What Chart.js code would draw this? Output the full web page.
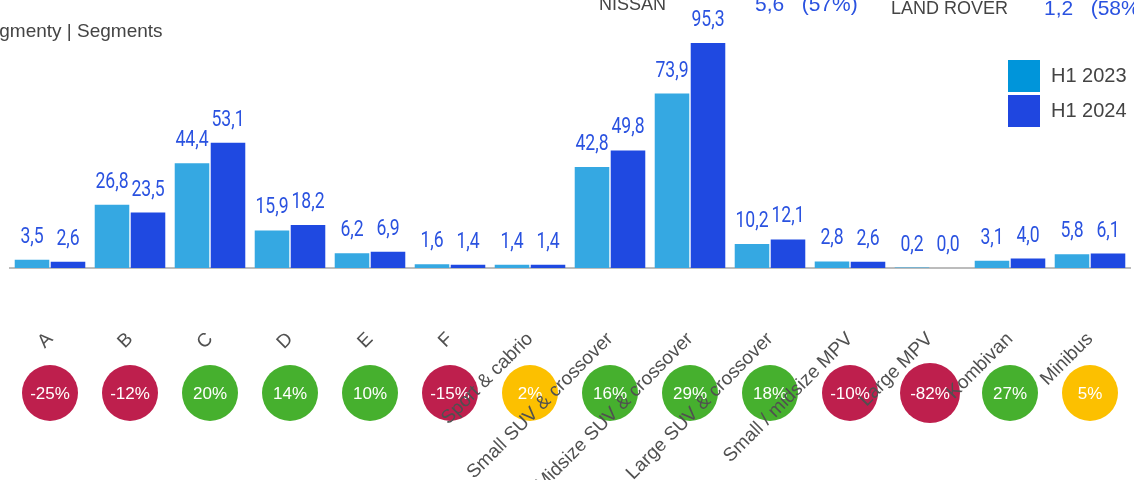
<!DOCTYPE html>
<html>
<head>
<meta charset="utf-8">
<script src="https://cdn.jsdelivr.net/npm/chart.js@4.4.1/dist/chart.umd.min.js"></script>
<style>
  html, body { margin: 0; padding: 0; background: #fff; }
  #wrap { position: relative; width: 1134px; height: 480px; overflow: hidden; font-family: 'Liberation Sans', Arial, sans-serif; }
  #wrap canvas { position: absolute; left: 0; top: 0; }
  .txt { position: absolute; white-space: nowrap; line-height: 1; }
  .gray { color: #444; }
  .blue { color: #2a52e0; }
  #legend { position: absolute; left: 1008px; top: 58px; }
  .lg { display: flex; align-items: center; height: 35px; font-size: 20px; color: #444; }
  .lg span.sw { width: 32px; height: 32px; margin-right: 11px; }
</style>
</head>
<body>
<div id="wrap">
  <canvas id="chart" width="1134" height="480"></canvas>
  <div class="txt gray" style="left:-24px; top:21px; font-size:19px;">Segmenty | Segments</div>
  <div class="txt gray" style="left:599px; top:-5px; font-size:18px;">NISSAN</div>
  <div class="txt blue" style="left:755px; top:-7px; font-size:21px;">5,6&nbsp;&nbsp;&nbsp;(57%)</div>
  <div class="txt gray" style="left:891px; top:-1px; font-size:18px;">LAND ROVER</div>
  <div class="txt blue" style="left:1044px; top:-3px; font-size:21px;">1,2&nbsp;&nbsp;&nbsp;(58%)</div>
  <div id="legend"></div>
</div>
<script>
const $ = (id) => document.getElementById(id);

// ----- data -----
const segments = ['A', 'B', 'C', 'D', 'E', 'F', 'Sport & cabrio', 'Small SUV & crossover',
  'Midsize SUV & crossover', 'Large SUV & crossover', 'Small / midsize MPV', 'Large MPV', 'Kombivan', 'Minibus'];
const h1_2023 = [3.5, 26.8, 44.4, 15.9, 6.2, 1.6, 1.4, 42.8, 73.9, 10.2, 2.8, 0.2, 3.1, 5.8];
const h1_2024 = [2.6, 23.5, 53.1, 18.2, 6.9, 1.4, 1.4, 49.8, 95.3, 12.1, 2.6, 0.0, 4.0, 6.1];
const changePct = [-25, -12, 20, 14, 10, -15, 2, 16, 29, 18, -10, -82, 27, 5];

const fmt = (v) => v.toFixed(1).replace('.', ',');
function circleColor(p) {
  if (p < 0) return '#be1f4d';
  if (p < 10) return '#fcc000';
  return '#46b02e';
}

// value labels above the bars (squeezed to look condensed)
const SQ = 0.8;
const valueLabels = {
  id: 'valueLabels',
  afterDatasetsDraw(c) {
    const g = c.ctx;
    g.save();
    g.scale(SQ, 1);
    g.font = '22px Roboto, "Liberation Sans", sans-serif';
    g.fillStyle = '#2a52e0';
    g.textAlign = 'center'; g.textBaseline = 'alphabetic';
    c.data.datasets.forEach((ds, di) => {
      c.getDatasetMeta(di).data.forEach((bar, i) => {
        g.fillText(fmt(ds.data[i]), bar.x / SQ, bar.y - 17);
      });
    });
    g.restore();
  }
};

// change circles under the axis (drawn before ticks so labels sit on top)
const changeCircles = {
  id: 'changeCircles',
  beforeDraw(c) {
    const g = c.ctx, x = c.scales.x;
    const cy = 393;
    g.save();
    changePct.forEach((p, i) => {
      const cx = x.getPixelForValue(i);
      const r = Math.abs(p) >= 50 ? 30 : 28;
      g.fillStyle = circleColor(p);
      g.beginPath(); g.arc(cx, cy, r, 0, Math.PI * 2); g.fill();
      g.fillStyle = '#fff';
      g.font = '17px "Liberation Sans", Arial, sans-serif';
      g.textAlign = 'center'; g.textBaseline = 'middle';
      g.fillText(p + '%', cx, cy + 1);
    });
    g.restore();
  }
};

const chart = new Chart($('chart').getContext('2d'), {
  type: 'bar',
  data: {
    labels: segments,
    datasets: [
      { label: 'H1 2023', data: h1_2023, backgroundColor: '#35a8e2', legendColor: '#0095da' },
      { label: 'H1 2024', data: h1_2024, backgroundColor: '#1f49e1', legendColor: '#1f46e0' }
    ]
  },
  options: {
    responsive: false, animation: false,
    layout: { padding: { left: 10, right: 4, top: 32, bottom: 0 } },
    datasets: { bar: { categoryPercentage: 0.9, barPercentage: 0.96 } },
    scales: {
      x: {
        grid: { display: false },
        border: { display: true, color: '#bcbcbc', width: 2 },
        ticks: {
          autoSkip: false, minRotation: 45, maxRotation: 45, padding: 52,
          color: '#505050', font: { family: '"Liberation Sans", Arial, sans-serif', size: 19 }
        },
        afterFit: (s) => { s.height = 212; s.paddingLeft = 0; s.paddingRight = 0; }
      },
      y: { display: false, min: 0, max: 100 }
    },
    plugins: { legend: { display: false }, tooltip: { enabled: false } }
  },
  plugins: [changeCircles, valueLabels]
});

// html legend
$('legend').innerHTML = chart.data.datasets.map(d =>
  `<div class="lg"><span class="sw" style="background:${d.legendColor}"></span>${d.label}</div>`).join('');
</script>
</body>
</html>
